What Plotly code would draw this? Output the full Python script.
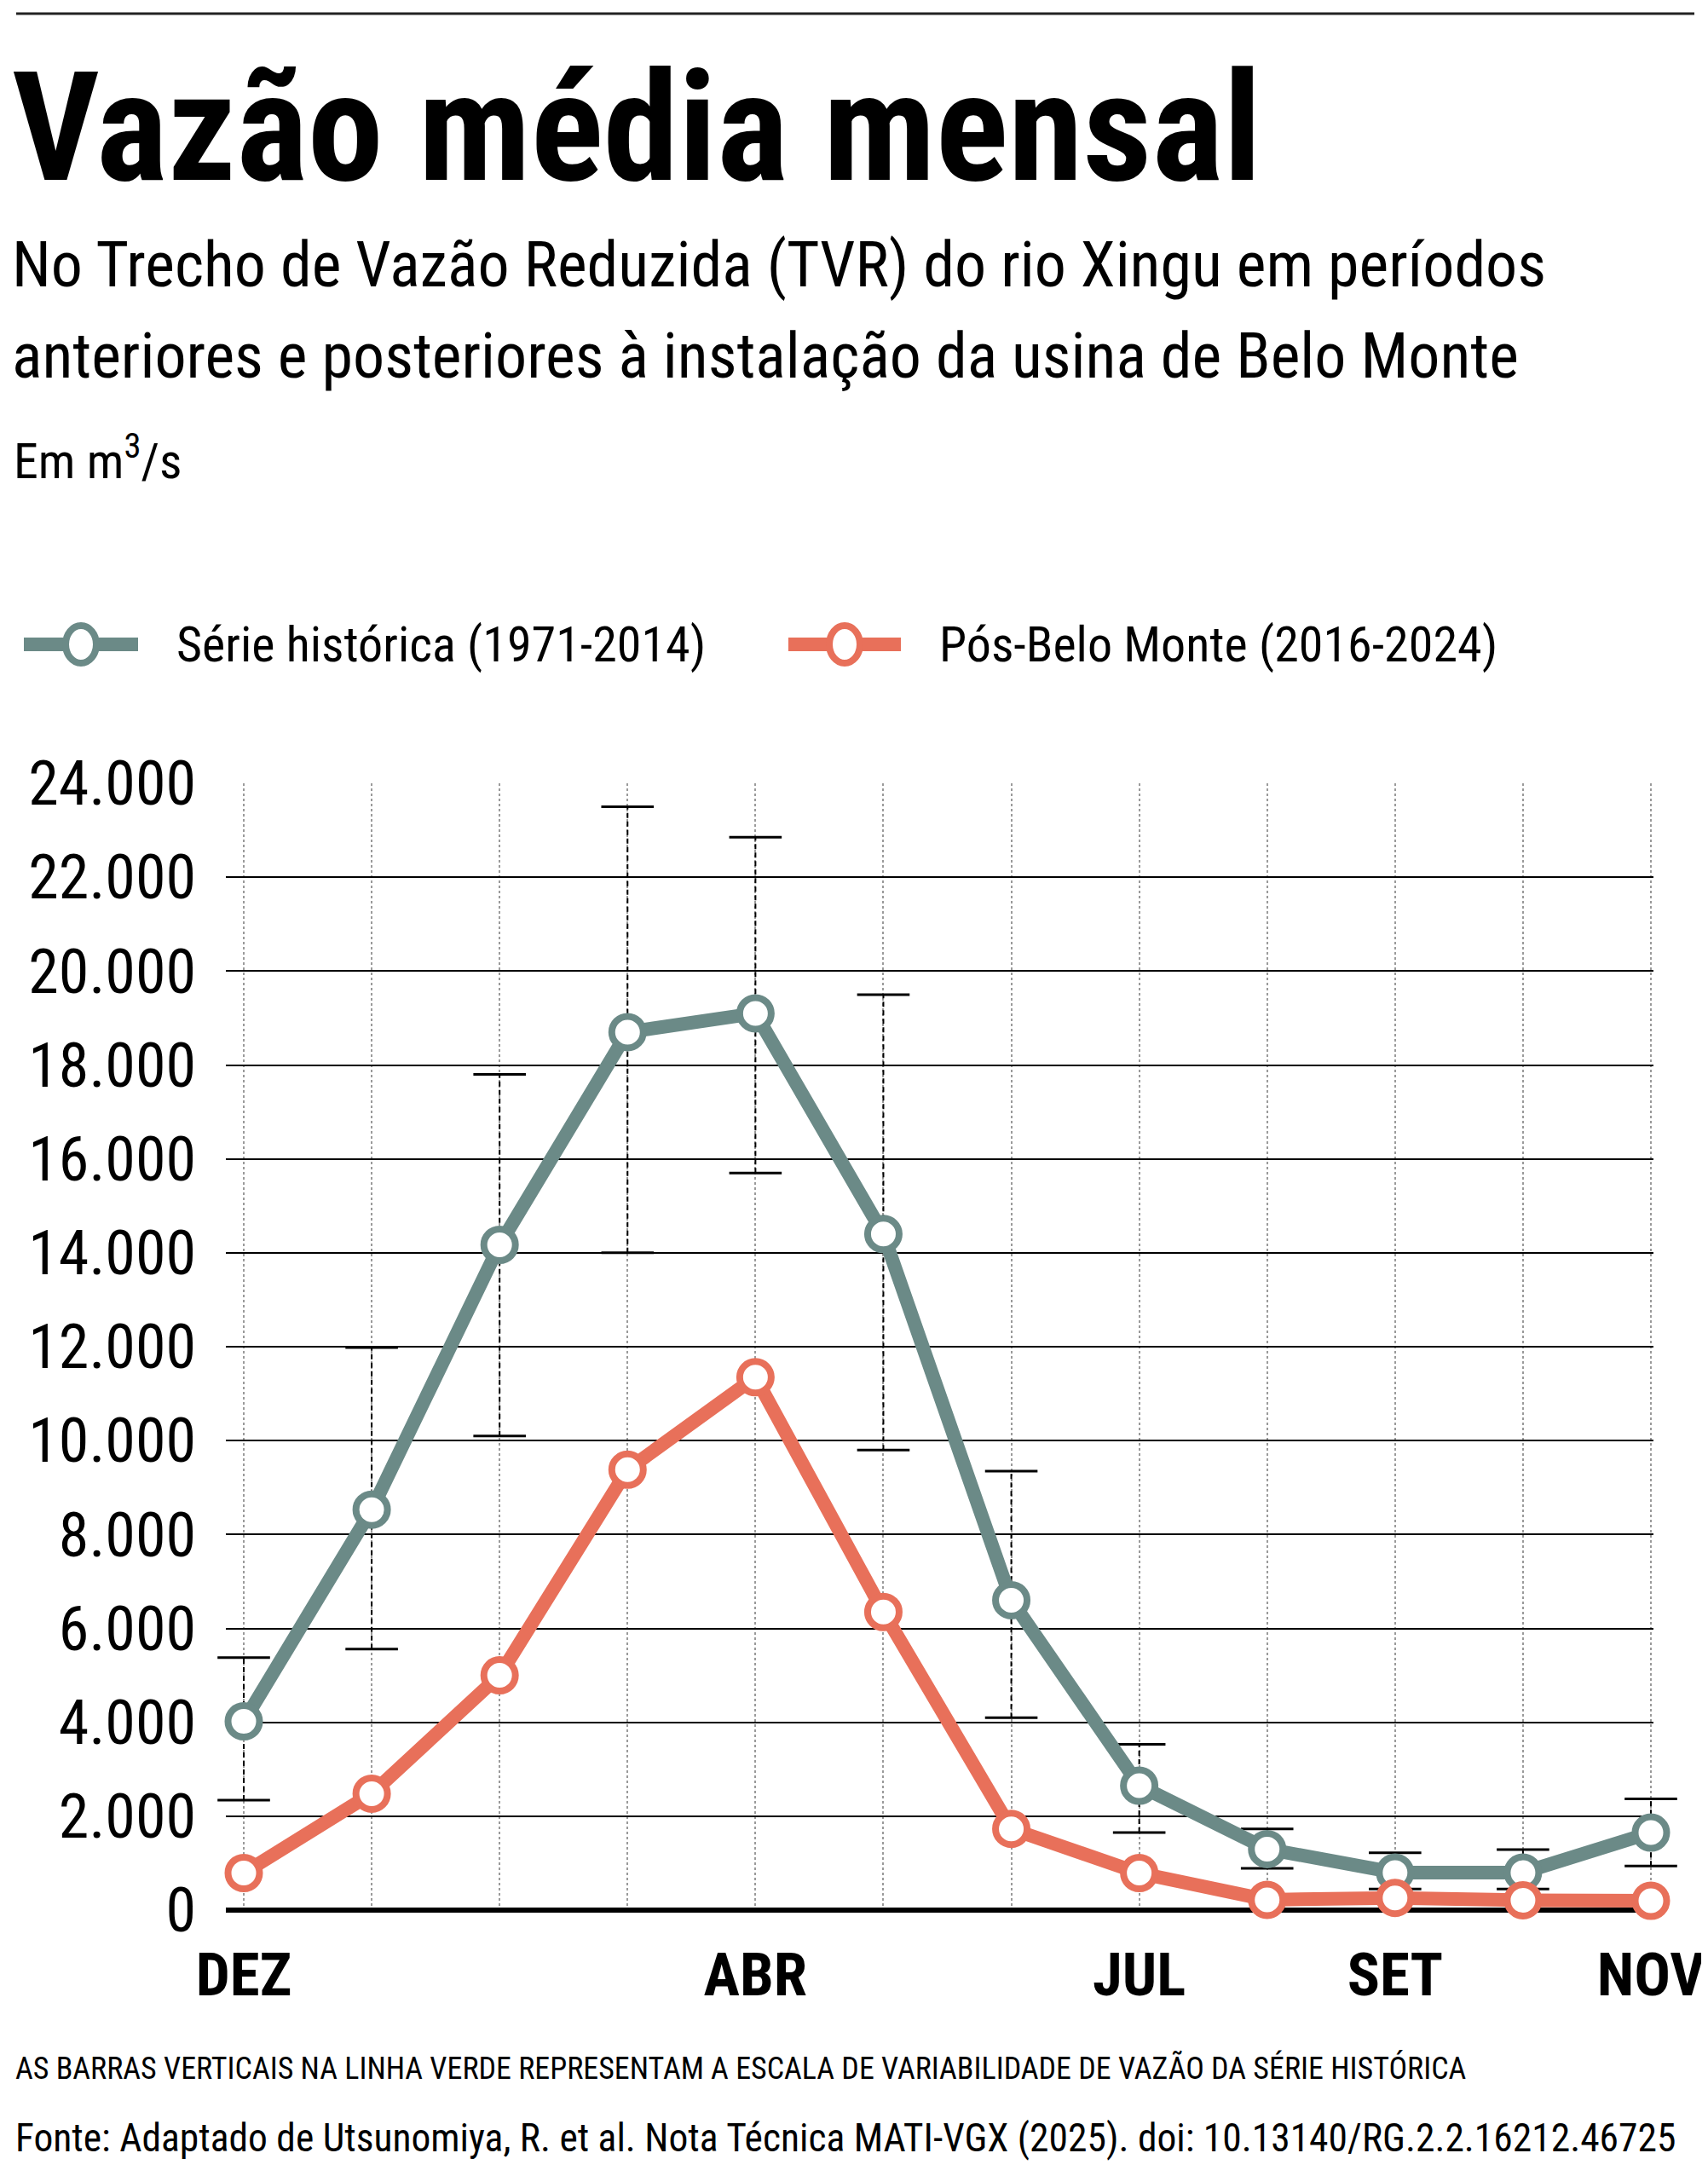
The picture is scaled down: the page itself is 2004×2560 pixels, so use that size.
import plotly.graph_objects as go

months = ["DEZ", "JAN", "FEV", "MAR", "ABR", "MAI", "JUN", "JUL", "AGO", "SET", "OUT", "NOV"]
labeled = ["DEZ", "ABR", "JUL", "SET", "NOV"]

historica = [4020, 8530, 14170, 18700, 19100, 14400, 6600, 2650, 1300, 800, 800, 1650]
hist_max = [5380, 11980, 17800, 23500, 22850, 19500, 9350, 3530, 1730, 1220, 1290, 2370]
hist_min = [2340, 5560, 10100, 14000, 15700, 9800, 4100, 1650, 890, 450, 450, 940]
pos_bm = [790, 2480, 5000, 9380, 11350, 6350, 1730, 790, 220, 260, 210, 200]

GREEN = "#6b8a87"
ORANGE = "#e8705a"
FONT = "Roboto Condensed, Roboto, sans-serif"

# the page body adds ~8px, so everything is placed 8px up/left
OFF = 8
W, H = 2004, 2560
L, R, T, B = 265 - OFF, 64 + OFF, 919 - OFF, 319 + OFF
pw, ph = W - L - R, H - T - B


def px(x):
    return (x - OFF - L) / pw


def py(y):
    return (H - B - (y - OFF)) / ph


x = list(range(len(months)))

fig = go.Figure()

# barras de variabilidade (serie historica)
ex, ey = [], []
for i, (lo, hi) in enumerate(zip(hist_min, hist_max)):
    ex += [i, i, None]
    ey += [lo, hi, None]
fig.add_trace(go.Scatter(x=ex, y=ey, mode="lines", line=dict(color="black", width=2, dash="6px,4px"),
                         showlegend=False, hoverinfo="skip", cliponaxis=False))
fig.add_trace(go.Scatter(x=x + x, y=hist_max + hist_min, mode="markers",
                         marker=dict(symbol="line-ew", size=44, line=dict(color="black", width=3)),
                         showlegend=False, hoverinfo="skip", cliponaxis=False))

fig.add_trace(go.Scatter(x=x, y=historica, mode="lines+markers", name="Série histórica (1971-2014)",
                         line=dict(color=GREEN, width=16),
                         marker=dict(size=37, color="white", line=dict(color=GREEN, width=8)),
                         showlegend=False, cliponaxis=False))
fig.add_trace(go.Scatter(x=x, y=pos_bm, mode="lines+markers", name="Pós-Belo Monte (2016-2024)",
                         line=dict(color=ORANGE, width=16),
                         marker=dict(size=37, color="white", line=dict(color=ORANGE, width=8)),
                         showlegend=False, cliponaxis=False))

fig.update_xaxes(range=[-0.14, 11.02], tickvals=x,
                 ticktext=[m if m in labeled else "" for m in months],
                 tickfont=dict(family=FONT, size=71, color="black", weight="bold"),
                 showgrid=True, gridcolor="#9a9a9a", gridwidth=2, griddash="dot",
                 ticks="", ticklabelstandoff=28, zeroline=False, showline=False)
fig.update_yaxes(range=[0, 24000], tickvals=list(range(0, 24001, 2000)), tickformat=",d",
                 tickfont=dict(family=FONT, size=72, color="black"),
                 showgrid=True, gridcolor="black", gridwidth=2,
                 zeroline=True, zerolinecolor="black", zerolinewidth=6,
                 ticks="", ticklabelstandoff=34, showline=False)

shapes = [dict(type="line", xref="paper", yref="paper", x0=px(19), x1=px(1988), y0=py(16), y1=py(16),
               line=dict(color="#222", width=3))]
annotations = []


def txt(s, x0, yc, size, weight="normal", color="black"):
    annotations.append(dict(text=s, x=px(x0), y=py(yc), xref="paper", yref="paper",
                            xanchor="left", yanchor="middle", showarrow=False,
                            font=dict(family=FONT, size=size, color=color, weight=weight)))


txt("Vazão média mensal", 12, 150, 178, weight="bold")
txt("No Trecho de Vazão Reduzida (TVR) do rio Xingu em períodos", 12, 311, 74)
txt("anteriores e posteriores à instalação da usina de Belo Monte", 12, 417, 74)
txt("Em m<sup>3</sup>/s", 14, 537, 58)

# legenda
for color, name, x0, x1, tx in [(GREEN, "Série histórica (1971-2014)", 28, 162, 205),
                                (ORANGE, "Pós-Belo Monte (2016-2024)", 925, 1057, 1100)]:
    shapes.append(dict(type="line", xref="paper", yref="paper", x0=px(x0), x1=px(x1),
                       y0=py(756), y1=py(756), line=dict(color=color, width=16)))
    cx = (x0 + x1) / 2
    shapes.append(dict(type="circle", xref="paper", yref="paper", x0=px(cx - 18), x1=px(cx + 18),
                       y0=py(756 + 22), y1=py(756 - 22), fillcolor="white",
                       line=dict(color=color, width=8)))
    txt(name, tx, 756, 58)

txt("AS BARRAS VERTICAIS NA LINHA VERDE REPRESENTAM A ESCALA DE VARIABILIDADE DE VAZÃO DA SÉRIE HISTÓRICA",
    16, 2426, 36)
txt("Fonte: Adaptado de Utsunomiya, R. et al. Nota Técnica MATI-VGX (2025). doi: 10.13140/RG.2.2.16212.46725",
    16, 2508, 45.5)

fig.update_layout(width=W, height=H, margin=dict(l=L, r=R, t=T, b=B),
                  paper_bgcolor="white", plot_bgcolor="white", separators=",.",
                  font=dict(family=FONT, color="black"),
                  shapes=shapes, annotations=annotations)

fig.write_html("out.html")
